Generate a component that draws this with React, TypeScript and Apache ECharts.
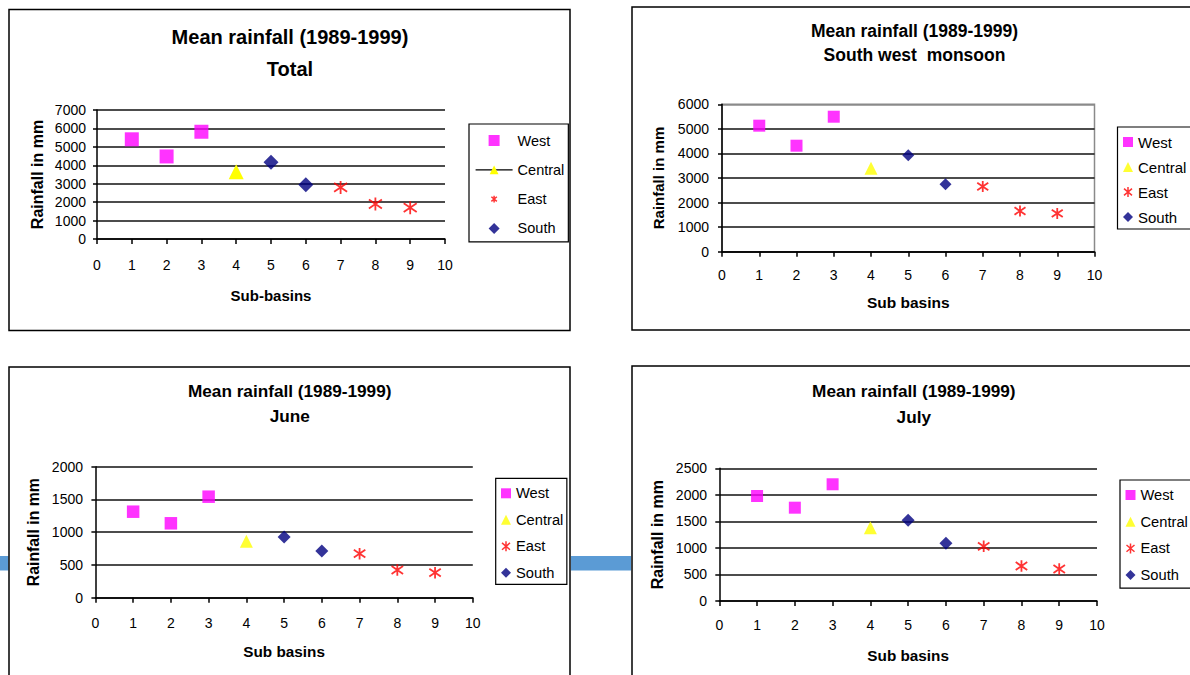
import React, { useEffect, useRef } from 'react';
import * as echarts from 'echarts';

const FONT = '"Liberation Sans", Arial, Helvetica, sans-serif';

// ---- data ----
const groups = ['West', 'Central', 'East', 'South'];
const westBasins = [1, 2, 3];
const centralBasins = [4];
const southBasins = [5, 6];
const eastBasins = [7, 8, 9];

const totalWest = [5410, 4480, 5820];
const totalCentral = [3650];
const totalSouth = [4160, 2950];
const totalEast = [2800, 1900, 1700];

const swmWest = [5130, 4315, 5495];
const swmCentral = [3400];
const swmSouth = [3925, 2745];
const swmEast = [2650, 1655, 1560];

const juneWest = [1313, 1136, 1542];
const juneCentral = [860];
const juneSouth = [927, 713];
const juneEast = [672, 423, 382];

const julyWest = [1978, 1758, 2199];
const julyCentral = [1381];
const julySouth = [1520, 1087];
const julyEast = [1030, 659, 603];

const titles = [
  'Mean rainfall (1989-1999)\nTotal',
  'Mean rainfall (1989-1999)\nSouth west  monsoon',
  'Mean rainfall (1989-1999)\nJune',
  'Mean rainfall (1989-1999)\nJuly',
];
const xNames = ['Sub-basins', 'Sub basins', 'Sub basins', 'Sub basins'];
const yName = 'Rainfall in mm';
const yMaxes = [7000, 6000, 2000, 2500];
const yIntervals = [1000, 1000, 500, 500];

const panelValues: Record<string, number[]>[] = [
  { West: totalWest, Central: totalCentral, East: totalEast, South: totalSouth },
  { West: swmWest, Central: swmCentral, East: swmEast, South: swmSouth },
  { West: juneWest, Central: juneCentral, East: juneEast, South: juneSouth },
  { West: julyWest, Central: julyCentral, East: julyEast, South: julySouth },
];
const basins: Record<string, number[]> = {
  West: westBasins,
  Central: centralBasins,
  East: eastBasins,
  South: southBasins,
};

// ---- styles / layout ----
const colors: Record<string, string> = {
  West: '#FF00FF',
  Central: '#FFFF00',
  East: '#FF0000',
  South: '#000080',
};
const STAR = 'path://M5,0L5,10M1,1.6L9,8.4M1,8.4L9,1.6';
const STAR_SMALL = 'path://M-3,-3M13,13M5,0L5,10M1,1.6L9,8.4M1,8.4L9,1.6';
const SQUARE = 'path://M0,0L10,0L10,10L0,10Z';
const TRIANGLE = 'path://M5,0L10,10L0,10Z';
const DIAMOND = 'path://M5,0L10,5L5,10L0,5Z';
const seriesSymbols: Record<string, string> = {
  West: 'rect',
  Central: 'triangle',
  East: STAR,
  South: DIAMOND,
};

const layouts = [
  {
    titleX: 290, titleTop: 21, titleSize: 20, titleLH: 32,
    grid: { left: 97, top: 110, width: 348, height: 129 },
    frame: false,
    xLabelMargin: 19, yLabelMargin: 11, xNameGap: 49, yNameGap: 52,
    xNameSize: 15, yNameSize: 16, tickSize: 14,
    sym: { West: 14, Central: 15, East: 13, South: 15 },
    legend: { left: 469, top: 124, pad: [9, 4, 6, 6], itemWidth: 37, itemHeight: 11, gap: 14.3, font: 14.5 },
  },
  {
    titleX: 914.5, titleTop: 19, titleSize: 17.5, titleLH: 24,
    grid: { left: 722, top: 104.3, width: 372.5, height: 147.4 },
    frame: true,
    xLabelMargin: 16, yLabelMargin: 13, xNameGap: 43, yNameGap: 56,
    xNameSize: 15.5, yNameSize: 15, tickSize: 14,
    sym: { West: 12, Central: 13, East: 11, South: 12 },
    legend: { left: 1117.5, top: 127, pad: [7.5, 40, 4.5, 5.5], itemWidth: 10, itemHeight: 10, gap: 10, font: 15 },
  },
  {
    titleX: 289.7, titleTop: 378, titleSize: 17.2, titleLH: 25.5,
    grid: { left: 95.4, top: 466.7, width: 377.4, height: 131 },
    frame: false,
    xLabelMargin: 18, yLabelMargin: 12.4, xNameGap: 46, yNameGap: 54,
    xNameSize: 15.3, yNameSize: 15.8, tickSize: 14,
    sym: { West: 12.5, Central: 13, East: 11.5, South: 13 },
    legend: { left: 495.7, top: 478.3, pad: [7.5, 3.5, 4, 5.3], itemWidth: 10, itemHeight: 10, gap: 11.5, font: 14.7 },
  },
  {
    titleX: 913.8, titleTop: 377.7, titleSize: 17.2, titleLH: 26,
    grid: { left: 719.3, top: 468.3, width: 377.7, height: 132.7 },
    frame: false,
    xLabelMargin: 17, yLabelMargin: 12.3, xNameGap: 46.5, yNameGap: 54,
    xNameSize: 15.3, yNameSize: 16, tickSize: 14,
    sym: { West: 12, Central: 13, East: 11.5, South: 13 },
    legend: { left: 1120, top: 480, pad: [7.5, 40, 5.5, 5.5], itemWidth: 10, itemHeight: 10, gap: 11.7, font: 14.7 },
  },
];

function buildOption() {
  const title = layouts.map((L, i) => ({
    text: titles[i],
    left: L.titleX,
    top: L.titleTop,
    textAlign: 'center',
    padding: 0,
    textStyle: {
      fontFamily: FONT,
      fontSize: L.titleSize,
      fontWeight: 'bold',
      lineHeight: L.titleLH,
      color: '#000',
    },
  }));

  const grid = layouts.map((L) => ({
    ...L.grid,
    show: L.frame,
    borderColor: '#8a8a8a',
    borderWidth: 1.5,
    backgroundColor: 'transparent',
  }));

  const xAxis = layouts.map((L, i) => ({
    gridIndex: i,
    type: 'value',
    min: 0,
    max: 10,
    interval: 1,
    name: xNames[i],
    nameLocation: 'middle',
    nameGap: L.xNameGap,
    nameTextStyle: { fontFamily: FONT, fontSize: L.xNameSize, fontWeight: 'bold', color: '#000' },
    axisLine: { show: true, onZero: false, lineStyle: { color: '#000', width: 1.5 } },
    axisTick: { show: true, length: 5, lineStyle: { color: '#000', width: 1.5 } },
    axisLabel: {
      fontFamily: FONT,
      fontSize: L.tickSize,
      color: '#000',
      margin: L.xLabelMargin,
      formatter: (v: number) => String(v),
    },
    splitLine: { show: false },
  }));

  const yAxis = layouts.map((L, i) => {
    const n = yMaxes[i] / yIntervals[i];
    const lineColors: string[] = [];
    for (let k = 0; k <= n; k++) lineColors.push(L.frame && k === n ? '#8a8a8a' : '#111');
    return {
      gridIndex: i,
      type: 'value',
      min: 0,
      max: yMaxes[i],
      interval: yIntervals[i],
      name: yName,
      nameLocation: 'middle',
      nameRotate: 90,
      nameGap: L.yNameGap,
      nameTextStyle: { fontFamily: FONT, fontSize: L.yNameSize, fontWeight: 'bold', color: '#000' },
      axisLine: { show: true, onZero: false, lineStyle: { color: '#000', width: 1.5 } },
      axisTick: { show: true, length: 4, lineStyle: { color: '#000', width: 1.5 } },
      axisLabel: {
        fontFamily: FONT,
        fontSize: L.tickSize,
        color: '#000',
        margin: L.yLabelMargin,
        formatter: (v: number) => String(v),
      },
      splitLine: { show: true, lineStyle: { color: lineColors, width: 1.5 } },
    };
  });

  const series: any[] = [];
  layouts.forEach((L, i) => {
    groups.forEach((g) => {
      const isLine = i === 0 && g === 'Central';
      const data = basins[g].map((b, k) => [b, panelValues[i][g][k]]);
      const itemStyle: any = { color: colors[g] };
      if (g === 'East') {
        itemStyle.borderColor = colors[g];
        itemStyle.borderWidth = 1.8;
      }
      const s: any = {
        name: `${g}|${i}`,
        type: isLine ? 'line' : 'scatter',
        xAxisIndex: i,
        yAxisIndex: i,
        data,
        symbol: seriesSymbols[g],
        symbolSize: (L.sym as any)[g],
        itemStyle,
        z: 3,
      };
      if (isLine) {
        s.showSymbol = true;
        s.lineStyle = { width: 0, opacity: 0 };
      }
      series.push(s);
    });
  });

  const legend = layouts.map((L, i) => ({
    orient: 'vertical',
    left: L.legend.left,
    top: L.legend.top,
    padding: L.legend.pad,
    itemWidth: L.legend.itemWidth,
    itemHeight: L.legend.itemHeight,
    itemGap: L.legend.gap,
    borderColor: '#000',
    borderWidth: 1.2,
    backgroundColor: '#fff',
    selectedMode: false,
    formatter: (name: string) => name.split('|')[0],
    textStyle: { fontFamily: FONT, fontSize: L.legend.font, lineHeight: 15, color: '#000' },
    data: groups.map((g) => {
      const name = `${g}|${i}`;
      if (i === 0 && g === 'Central') {
        return { name, lineStyle: { color: '#000', width: 1.2, opacity: 1 } };
      }
      if (g === 'East') {
        return {
          name,
          icon: i === 0 ? STAR_SMALL : STAR,
          itemStyle: { color: colors[g], borderColor: colors[g], borderWidth: 1.5 },
        };
      }
      return { name, icon: g === 'West' ? SQUARE : g === 'Central' ? TRIANGLE : DIAMOND };
    }),
  }));

  const graphic = [
    { type: 'rect', silent: true, shape: { x: 0, y: 556, width: 8.5, height: 14.5 }, style: { fill: '#5B9BD5' } },
    { type: 'rect', silent: true, shape: { x: 571, y: 556, width: 60, height: 14.5 }, style: { fill: '#5B9BD5' } },
    { type: 'rect', silent: true, shape: { x: 9, y: 9.5, width: 561, height: 321 }, style: { fill: 'none', stroke: '#000', lineWidth: 1.5 } },
    { type: 'rect', silent: true, shape: { x: 632, y: 7, width: 570, height: 323 }, style: { fill: 'none', stroke: '#000', lineWidth: 1.5 } },
    { type: 'rect', silent: true, shape: { x: 9, y: 367, width: 561, height: 320 }, style: { fill: 'none', stroke: '#000', lineWidth: 1.5 } },
    { type: 'rect', silent: true, shape: { x: 632, y: 366, width: 570, height: 320 }, style: { fill: 'none', stroke: '#000', lineWidth: 1.5 } },
  ];

  return {
    animation: false,
    backgroundColor: '#fff',
    textStyle: { fontFamily: FONT },
    title,
    grid,
    xAxis,
    yAxis,
    legend,
    series,
    graphic,
  };
}

export default function App() {
  const ref = useRef<HTMLDivElement>(null);
  useEffect(() => {
    if (!ref.current) return;
    const chart = echarts.init(ref.current, undefined, { renderer: 'svg' });
    chart.setOption(buildOption() as any);
    return () => chart.dispose();
  }, []);
  return (
    <div
      ref={ref}
      style={{ position: 'absolute', left: 0, top: 0, width: 1190, height: 675, overflow: 'hidden' }}
    />
  );
}
